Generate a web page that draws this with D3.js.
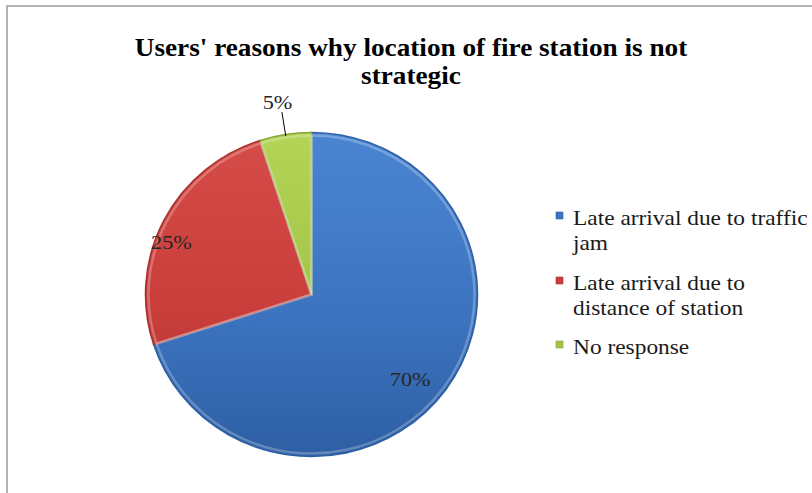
<!DOCTYPE html>
<html>
<head>
<meta charset="utf-8">
<script src="https://cdn.jsdelivr.net/npm/d3@7"></script>
<style>
  html, body { margin: 0; padding: 0; background: #ffffff; }
  svg { display: block; }
</style>
</head>
<body>
<svg id="chart" width="812" height="493"></svg>
<script>
// ---- data ----
const titleLines = ["Users' reasons why location of fire station is not", "strategic"];
const categories = ["Late arrival due to traffic jam", "Late arrival due to distance of station", "No response"];
const legendLines = [["Late arrival due to traffic", "jam"], ["Late arrival due to", "distance of station"], ["No response"]];
const values = [70, 25, 5];
const labels = ["70%", "25%", "5%"];
const colors = ["#3d74c0", "#c93e3b", "#a2c446"];
const colorsLight = ["#4a85d2", "#d64c48", "#b3d457"];
const colorsDark = ["#2e5fa4", "#a8302d", "#86a636"];

// ---- layout ----
const cx = 311.5, cy = 294.5, rx = 166, ry = 162;
const serif = "'Liberation Serif', 'Times New Roman', serif";
const svg = d3.select("#chart");
const defs = svg.append("defs");

// chart frame
svg.append("rect").attr("x", 7).attr("y", 6).attr("width", 900).attr("height", 600)
  .attr("fill", "#ffffff").attr("stroke", "#b3b3b3").attr("stroke-width", 2);

// title (bold serif, condensed horizontally to the reference width)
const titleG = svg.append("g");
const title = titleG.append("text").attr("text-anchor", "middle")
  .attr("font-family", serif).attr("font-weight", "bold").attr("font-size", 25)
  .attr("fill", "#000");
titleLines.forEach((t, i) => {
  title.append("tspan").attr("x", 0).attr("y", 56 + i * 28).text(t);
});
{
  const len = title.select("tspan").node().getComputedTextLength();
  const sx = 553 / len;
  titleG.attr("transform", `translate(411,0) scale(${sx},1)`);
}

// gradients
colors.forEach((c, i) => {
  const g = defs.append("linearGradient").attr("id", "g" + i)
    .attr("gradientUnits", "userSpaceOnUse")
    .attr("x1", 0).attr("y1", -rx).attr("x2", 0).attr("y2", rx);
  g.append("stop").attr("offset", "0%").attr("stop-color", colorsLight[i]);
  g.append("stop").attr("offset", "55%").attr("stop-color", c);
  g.append("stop").attr("offset", "100%").attr("stop-color", colorsDark[i]);
});

const pie = d3.pie().sort(null).value(d => d)(values);
const arc = d3.arc().innerRadius(0).outerRadius(rx);
const gPie = svg.append("g").attr("transform", `translate(${cx},${cy}) scale(1,${ry / rx})`);
gPie.selectAll("path.slice").data(pie).join("path").attr("class", "slice")
  .attr("d", arc)
  .attr("fill", (d, i) => `url(#g${i})`)
  .attr("stroke", (d, i) => colorsDark[i])
  .attr("stroke-width", 1.5)
  .attr("vector-effect", "non-scaling-stroke");
// bevel highlight along slice edges
const bevelArc = d3.arc().innerRadius(0).outerRadius(rx - 3);
gPie.selectAll("path.bevel").data(pie).join("path").attr("class", "bevel")
  .attr("d", bevelArc).attr("fill", "none")
  .attr("stroke", "#ffffff").attr("stroke-opacity", 0.25).attr("stroke-width", 2.5)
  .attr("vector-effect", "non-scaling-stroke");

// data labels
const pt = (angle, f) => [cx + f * rx * Math.sin(angle), cy - f * ry * Math.cos(angle)];
const mid = d => (d.startAngle + d.endAngle) / 2;
const labelSpec = [
  { f: 0.75, dx: -2, dy: 20 },
  { f: 0.9, dx: -7, dy: 21 },
  { f: 1.27, dx: -1, dy: 18 }
];
const textSX = 1.17;
pie.forEach((d, i) => {
  const s = labelSpec[i];
  const [x, y] = pt(mid(d), s.f);
  svg.append("text")
    .attr("transform", `translate(${x + s.dx},${y + s.dy}) scale(${textSX},1)`)
    .attr("text-anchor", "middle").attr("font-family", serif)
    .attr("font-size", 19).attr("fill", "#262626").text(labels[i]);
});
// leader line for the small slice
{
  const a = mid(pie[2]);
  const [x1, y1] = pt(a, 0.99);
  const [x2, y2] = pt(a, 1.14);
  svg.append("line").attr("x1", x1).attr("y1", y1).attr("x2", x2).attr("y2", y2)
    .attr("stroke", "#000").attr("stroke-width", 1);
}

// legend
const legend = svg.append("g").attr("transform", "translate(556,0)");
const itemY = [225, 290, 354];
legendLines.forEach((lines, i) => {
  legend.append("rect").attr("x", 0).attr("y", itemY[i] - 13).attr("width", 7).attr("height", 7)
    .attr("fill", colors[i]).attr("stroke", colorsDark[i]).attr("stroke-width", 0.6);
  const t = legend.append("text")
    .attr("transform", `translate(17,0) scale(${textSX},1)`)
    .attr("font-family", serif).attr("font-size", 20).attr("fill", "#1a1a1a");
  lines.forEach((ln, j) => {
    t.append("tspan").attr("x", 0).attr("y", itemY[i] + j * 25).text(ln);
  });
});
</script>
</body>
</html>
